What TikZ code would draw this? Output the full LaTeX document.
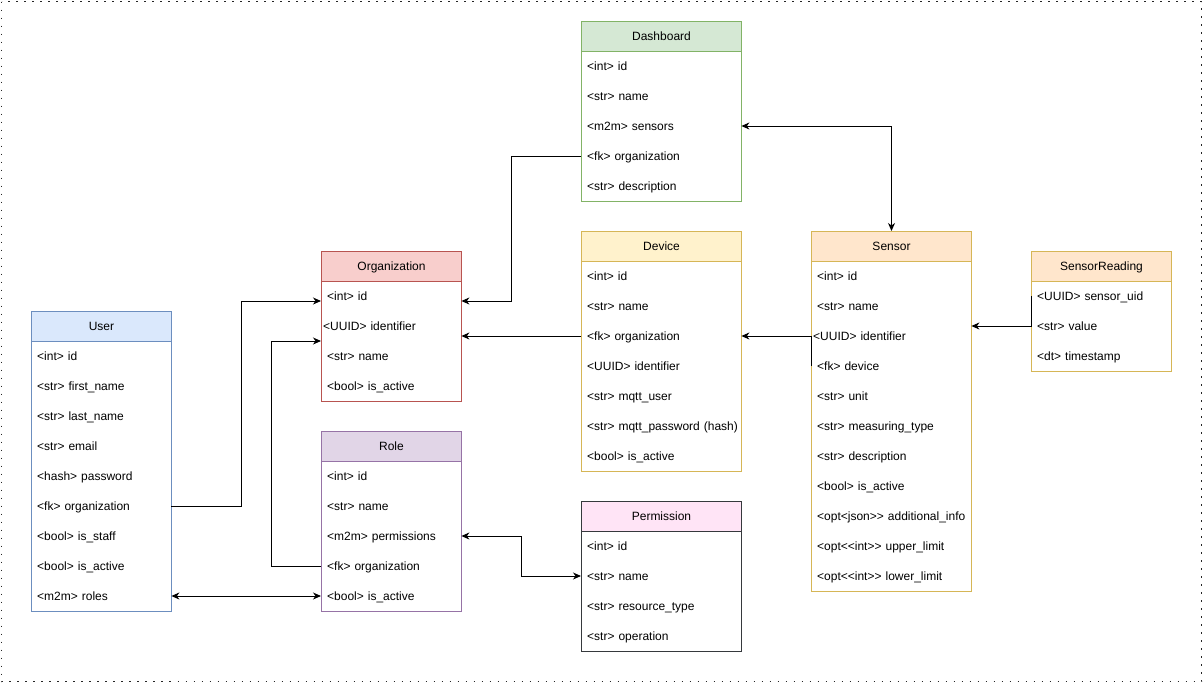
\documentclass[tikz,border=0pt]{standalone}
\usepackage{fontspec}
\setmainfont{Liberation Sans}
\usetikzlibrary{arrows.meta,calc}
\definecolor{dashF}{HTML}{D5E8D4}\definecolor{dashS}{HTML}{82B366}
\definecolor{orgF}{HTML}{F8CECC}\definecolor{orgS}{HTML}{B85450}
\definecolor{usrF}{HTML}{DAE8FC}\definecolor{usrS}{HTML}{6C8EBF}
\definecolor{roleF}{HTML}{E1D5E7}\definecolor{roleS}{HTML}{9673A6}
\definecolor{devF}{HTML}{FFF2CC}\definecolor{devS}{HTML}{D6B656}
\definecolor{permF}{HTML}{FFE4F6}\definecolor{permS}{HTML}{36393D}
\definecolor{senF}{HTML}{FFE6CC}\definecolor{senS}{HTML}{D6B656}
\tikzset{
  every node/.style={font=\fontsize{12pt}{14pt}\selectfont, text=black},
  hdr/.style={draw, line width=1pt, minimum height=30pt, inner sep=0pt, anchor=north west, text height=10pt, text depth=2pt},
  tbody/.style={draw, line width=1pt, fill=white, inner sep=0pt, anchor=north west},
  rowa/.style={minimum height=30pt, inner xsep=6pt, inner ysep=0pt, anchor=west, align=left, text width=148pt, text height=10pt, text depth=2pt},
  rowb/.style={minimum height=30pt, inner xsep=6pt, inner ysep=0pt, anchor=west, align=left, text width=128pt, text height=10pt, text depth=2pt},
  rowan/.style={rowa, inner xsep=2pt, text width=156pt},
  rowbn/.style={rowb, inner xsep=2pt, text width=136pt},
  rel/.style={draw=black, line width=1pt, -{Stealth[length=8pt,width=7pt,inset=2.5pt]}},
  relboth/.style={draw=black, line width=1pt, {Stealth[length=8pt,width=7pt,inset=2.5pt]}-{Stealth[length=8pt,width=7pt,inset=2.5pt]}},
}
\begin{document}
\begin{tikzpicture}[x=1pt,y=-1pt]
\useasboundingbox (0,0) rectangle (1203,683);
\draw[line width=1.6pt, dash pattern=on 1.6pt off 6.4pt, color=black!85] (1.5,1.5) rectangle (1201.5,681.5);

% Dashboard
\node[hdr, draw=dashS, fill=dashF, minimum width=160pt] (dash-h) at (581,21) {Dashboard};
\node[tbody, draw=dashS, minimum width=160pt, minimum height=150pt] (dash-b) at (581,51) {};
\node[rowa] (dash-id) at (581,66) {<int> id};
\node[rowa] (dash-name) at (581,96) {<str> name};
\node[rowa] (dash-sens) at (581,126) {<m2m> sensors};
\node[rowa] (dash-org) at (581,156) {<fk> organization};
\node[rowa] (dash-desc) at (581,186) {<str> description};

% Organization
\node[hdr, draw=orgS, fill=orgF, minimum width=140pt] (org-h) at (321,251) {Organization};
\node[tbody, draw=orgS, minimum width=140pt, minimum height=120pt] (org-b) at (321,281) {};
\node[rowb] (org-id) at (321,296) {<int> id};
\node[rowbn] (org-uuid) at (321,326) {<UUID> identifier};
\node[rowb] (org-name) at (321,356) {<str> name};
\node[rowb] (org-act) at (321,386) {<bool> is\_active};

% User
\node[hdr, draw=usrS, fill=usrF, minimum width=140pt] (usr-h) at (31,311) {User};
\node[tbody, draw=usrS, minimum width=140pt, minimum height=270pt] (usr-b) at (31,341) {};
\node[rowb] (usr-id) at (31,356) {<int> id};
\node[rowb] (usr-fn) at (31,386) {<str> first\_name};
\node[rowb] (usr-ln) at (31,416) {<str> last\_name};
\node[rowb] (usr-mail) at (31,446) {<str> email};
\node[rowb] (usr-pw) at (31,476) {<hash> password};
\node[rowb] (usr-org) at (31,506) {<fk> organization};
\node[rowb] (usr-staff) at (31,536) {<bool> is\_staff};
\node[rowb] (usr-act) at (31,566) {<bool> is\_active};
\node[rowb] (usr-roles) at (31,596) {<m2m> roles};

% Role
\node[hdr, draw=roleS, fill=roleF, minimum width=140pt] (role-h) at (321,431) {Role};
\node[tbody, draw=roleS, minimum width=140pt, minimum height=150pt] (role-b) at (321,461) {};
\node[rowb] (role-id) at (321,476) {<int> id};
\node[rowb] (role-name) at (321,506) {<str> name};
\node[rowb] (role-perm) at (321,536) {<m2m> permissions};
\node[rowb] (role-org) at (321,566) {<fk> organization};
\node[rowb] (role-act) at (321,596) {<bool> is\_active};

% Device
\node[hdr, draw=devS, fill=devF, minimum width=160pt] (dev-h) at (581,231) {Device};
\node[tbody, draw=devS, minimum width=160pt, minimum height=210pt] (dev-b) at (581,261) {};
\node[rowa] (dev-id) at (581,276) {<int> id};
\node[rowa] (dev-name) at (581,306) {<str> name};
\node[rowa] (dev-org) at (581,336) {<fk> organization};
\node[rowa] (dev-uuid) at (581,366) {<UUID> identifier};
\node[rowa] (dev-mu) at (581,396) {<str> mqtt\_user};
\node[rowa] (dev-mp) at (581,426) {\mbox{<str> mqtt\_password (hash)}};
\node[rowa] (dev-act) at (581,456) {<bool> is\_active};

% Permission
\node[hdr, draw=permS, fill=permF, minimum width=160pt] (perm-h) at (581,501) {Permission};
\node[tbody, draw=permS, minimum width=160pt, minimum height=120pt] (perm-b) at (581,531) {};
\node[rowa] (perm-id) at (581,546) {<int> id};
\node[rowa] (perm-name) at (581,576) {<str> name};
\node[rowa] (perm-res) at (581,606) {<str> resource\_type};
\node[rowa] (perm-op) at (581,636) {<str> operation};

% Sensor
\node[hdr, draw=senS, fill=senF, minimum width=160pt] (sen-h) at (811,231) {Sensor};
\node[tbody, draw=senS, minimum width=160pt, minimum height=330pt] (sen-b) at (811,261) {};
\node[rowa] (sen-id) at (811,276) {<int> id};
\node[rowa] (sen-name) at (811,306) {<str> name};
\node[rowan] (sen-uuid) at (811,336) {<UUID> identifier};
\node[rowa] (sen-dev) at (811,366) {<fk> device};
\node[rowa] (sen-unit) at (811,396) {<str> unit};
\node[rowa] (sen-mt) at (811,426) {<str> measuring\_type};
\node[rowa] (sen-desc) at (811,456) {<str> description};
\node[rowa] (sen-act) at (811,486) {<bool> is\_active};
\node[rowa] (sen-info) at (811,516) {\mbox{<opt<json>\kern0pt> additional\_info}};
\node[rowa] (sen-up) at (811,546) {\mbox{<opt<\kern0pt<int>\kern0pt> upper\_limit}};
\node[rowa] (sen-low) at (811,576) {\mbox{<opt<\kern0pt<int>\kern0pt> lower\_limit}};

% SensorReading
\node[hdr, draw=senS, fill=senF, minimum width=140pt] (sr-h) at (1031,251) {SensorReading};
\node[tbody, draw=senS, minimum width=140pt, minimum height=90pt] (sr-b) at (1031,281) {};
\node[rowb] (sr-uid) at (1031,296) {<UUID> sensor\_uid};
\node[rowb] (sr-val) at (1031,326) {<str> value};
\node[rowb] (sr-ts) at (1031,356) {<dt> timestamp};

% Connectors
\draw[rel] (dash-org.west) -- ++(-70,0) |- ([yshift=-5pt]org-id.east);
\draw[relboth] (dash-sens.east) -| (sen-h.north);
\draw[rel] (dev-org.west) -- (dev-org.west -| org-id.east);
\draw[rel] (sen-dev.west) |- (dev-org.east);
\draw[rel] (sr-uid.west) |- (sr-val.west -| sen-id.east);
\draw[rel] (usr-org.east) -- ++(70,0) |- ([yshift=-5pt]org-id.west);
\draw[rel] (role-org.west) -- ++(-50,0) |- ([yshift=-15pt]org-uuid.west);
\draw[relboth] (usr-roles.east) -- (role-act.west);
\draw[relboth] (role-perm.east) -- ++(60,0) |- (perm-name.west);
\end{tikzpicture}
\end{document}
